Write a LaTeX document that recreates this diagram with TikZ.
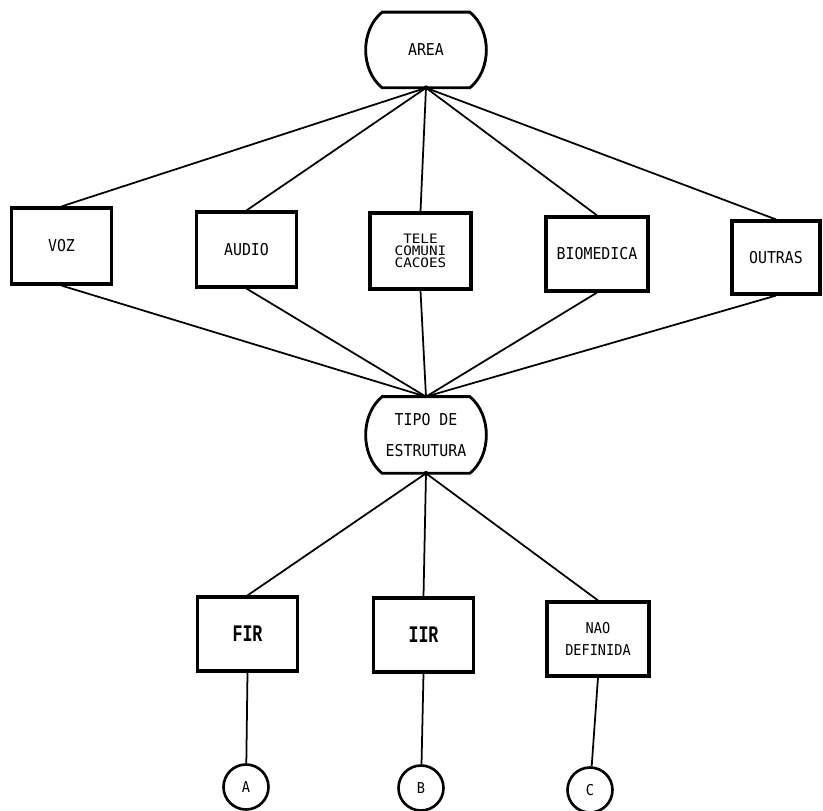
\documentclass[tikz,border=0pt]{standalone}
\usepackage{fontspec}
\newfontfamily\plotfont[FakeStretch=0.91]{DejaVu Sans Mono}
\newfontfamily\telefont[FakeStretch=1.1]{DejaVu Sans Mono}
\newfontfamily\firfont[FakeStretch=0.7]{Liberation Mono}
\tikzset{
  caixa/.style={draw,line width=1.8pt,minimum width=2cm,minimum height=1.5cm,inner sep=0pt,align=center,
    font=\plotfont\fontsize{9.3}{12.5}\selectfont},
  barril/.style={minimum width=1.74cm,minimum height=1.5cm,inner sep=0pt,align=center,
    font=\plotfont\fontsize{9.3}{18}\selectfont},
  circulo/.style={circle,draw,line width=1.5pt,minimum size=.9cm,inner sep=0pt,
    font=\plotfont\fontsize{8.5}{9}\selectfont},
  liga/.style={line width=1pt}
}
\begin{document}
\begin{tikzpicture}[x=.02cm,y=-.02cm]
\useasboundingbox (0,0) rectangle (823,811);
% no do topo e no do meio
\node[barril] (area) at (426,50) {AREA};
\node[barril,minimum height=1.52cm] (tipo) at (426,435) {TIPO DE\\ESTRUTURA};
\foreach \n in {area,tipo}
  \draw[line width=1.6pt] (\n.north west) -- (\n.north east)
    .. controls +(22,18) and +(22,-18) .. (\n.south east) -- (\n.south west)
    .. controls +(-22,-18) and +(-22,18) .. (\n.north west) -- cycle;
% areas de aplicacao
\node[caixa,minimum height=1.52cm] (voz) at (61.5,246) {VOZ};
\node[caixa] (audio) at (246.5,249.5) {AUDIO};
\node[caixa,minimum width=2.02cm,minimum height=1.52cm,font=\telefont\fontsize{7.4}{6.8}\selectfont] (tele) at (420.5,251) {TELE\\COMUNI\\CACOES};
\node[caixa,minimum width=2.04cm,minimum height=1.48cm] (bio) at (597,254) {BIOMEDICA};
\node[caixa,minimum width=1.76cm,minimum height=1.46cm] (outras) at (776,257.5) {OUTRAS};
% estruturas
\node[caixa,minimum height=1.48cm,font=\firfont\bfseries\fontsize{13.5}{14}\selectfont] (fir) at (247.5,634) {FIR};
\node[caixa,minimum height=1.48cm,font=\firfont\bfseries\fontsize{13.5}{14}\selectfont] (iir) at (423.5,635) {IIR};
\node[caixa,minimum width=2.04cm,minimum height=1.48cm,font=\plotfont\fontsize{8.5}{12.5}\selectfont] (nao) at (598,639) {NAO\\DEFINIDA};
\node[circulo] (A) at (246,787) {A};
\node[circulo] (B) at (421,788) {B};
\node[circulo] (C) at (590,790) {C};
% ligacoes
\foreach \b in {voz,audio,tele,bio,outras}
  \draw[liga] (area.south) -- (\b.north) (\b.south) -- (tipo.north);
\foreach \b/\c in {fir/A,iir/B,nao/C}
  \draw[liga] (tipo.south) -- (\b.north) (\b.south) -- (\c);
\foreach \p in {area.south,tipo.south} \fill (\p) circle (1.4pt);
\end{tikzpicture}
\end{document}
